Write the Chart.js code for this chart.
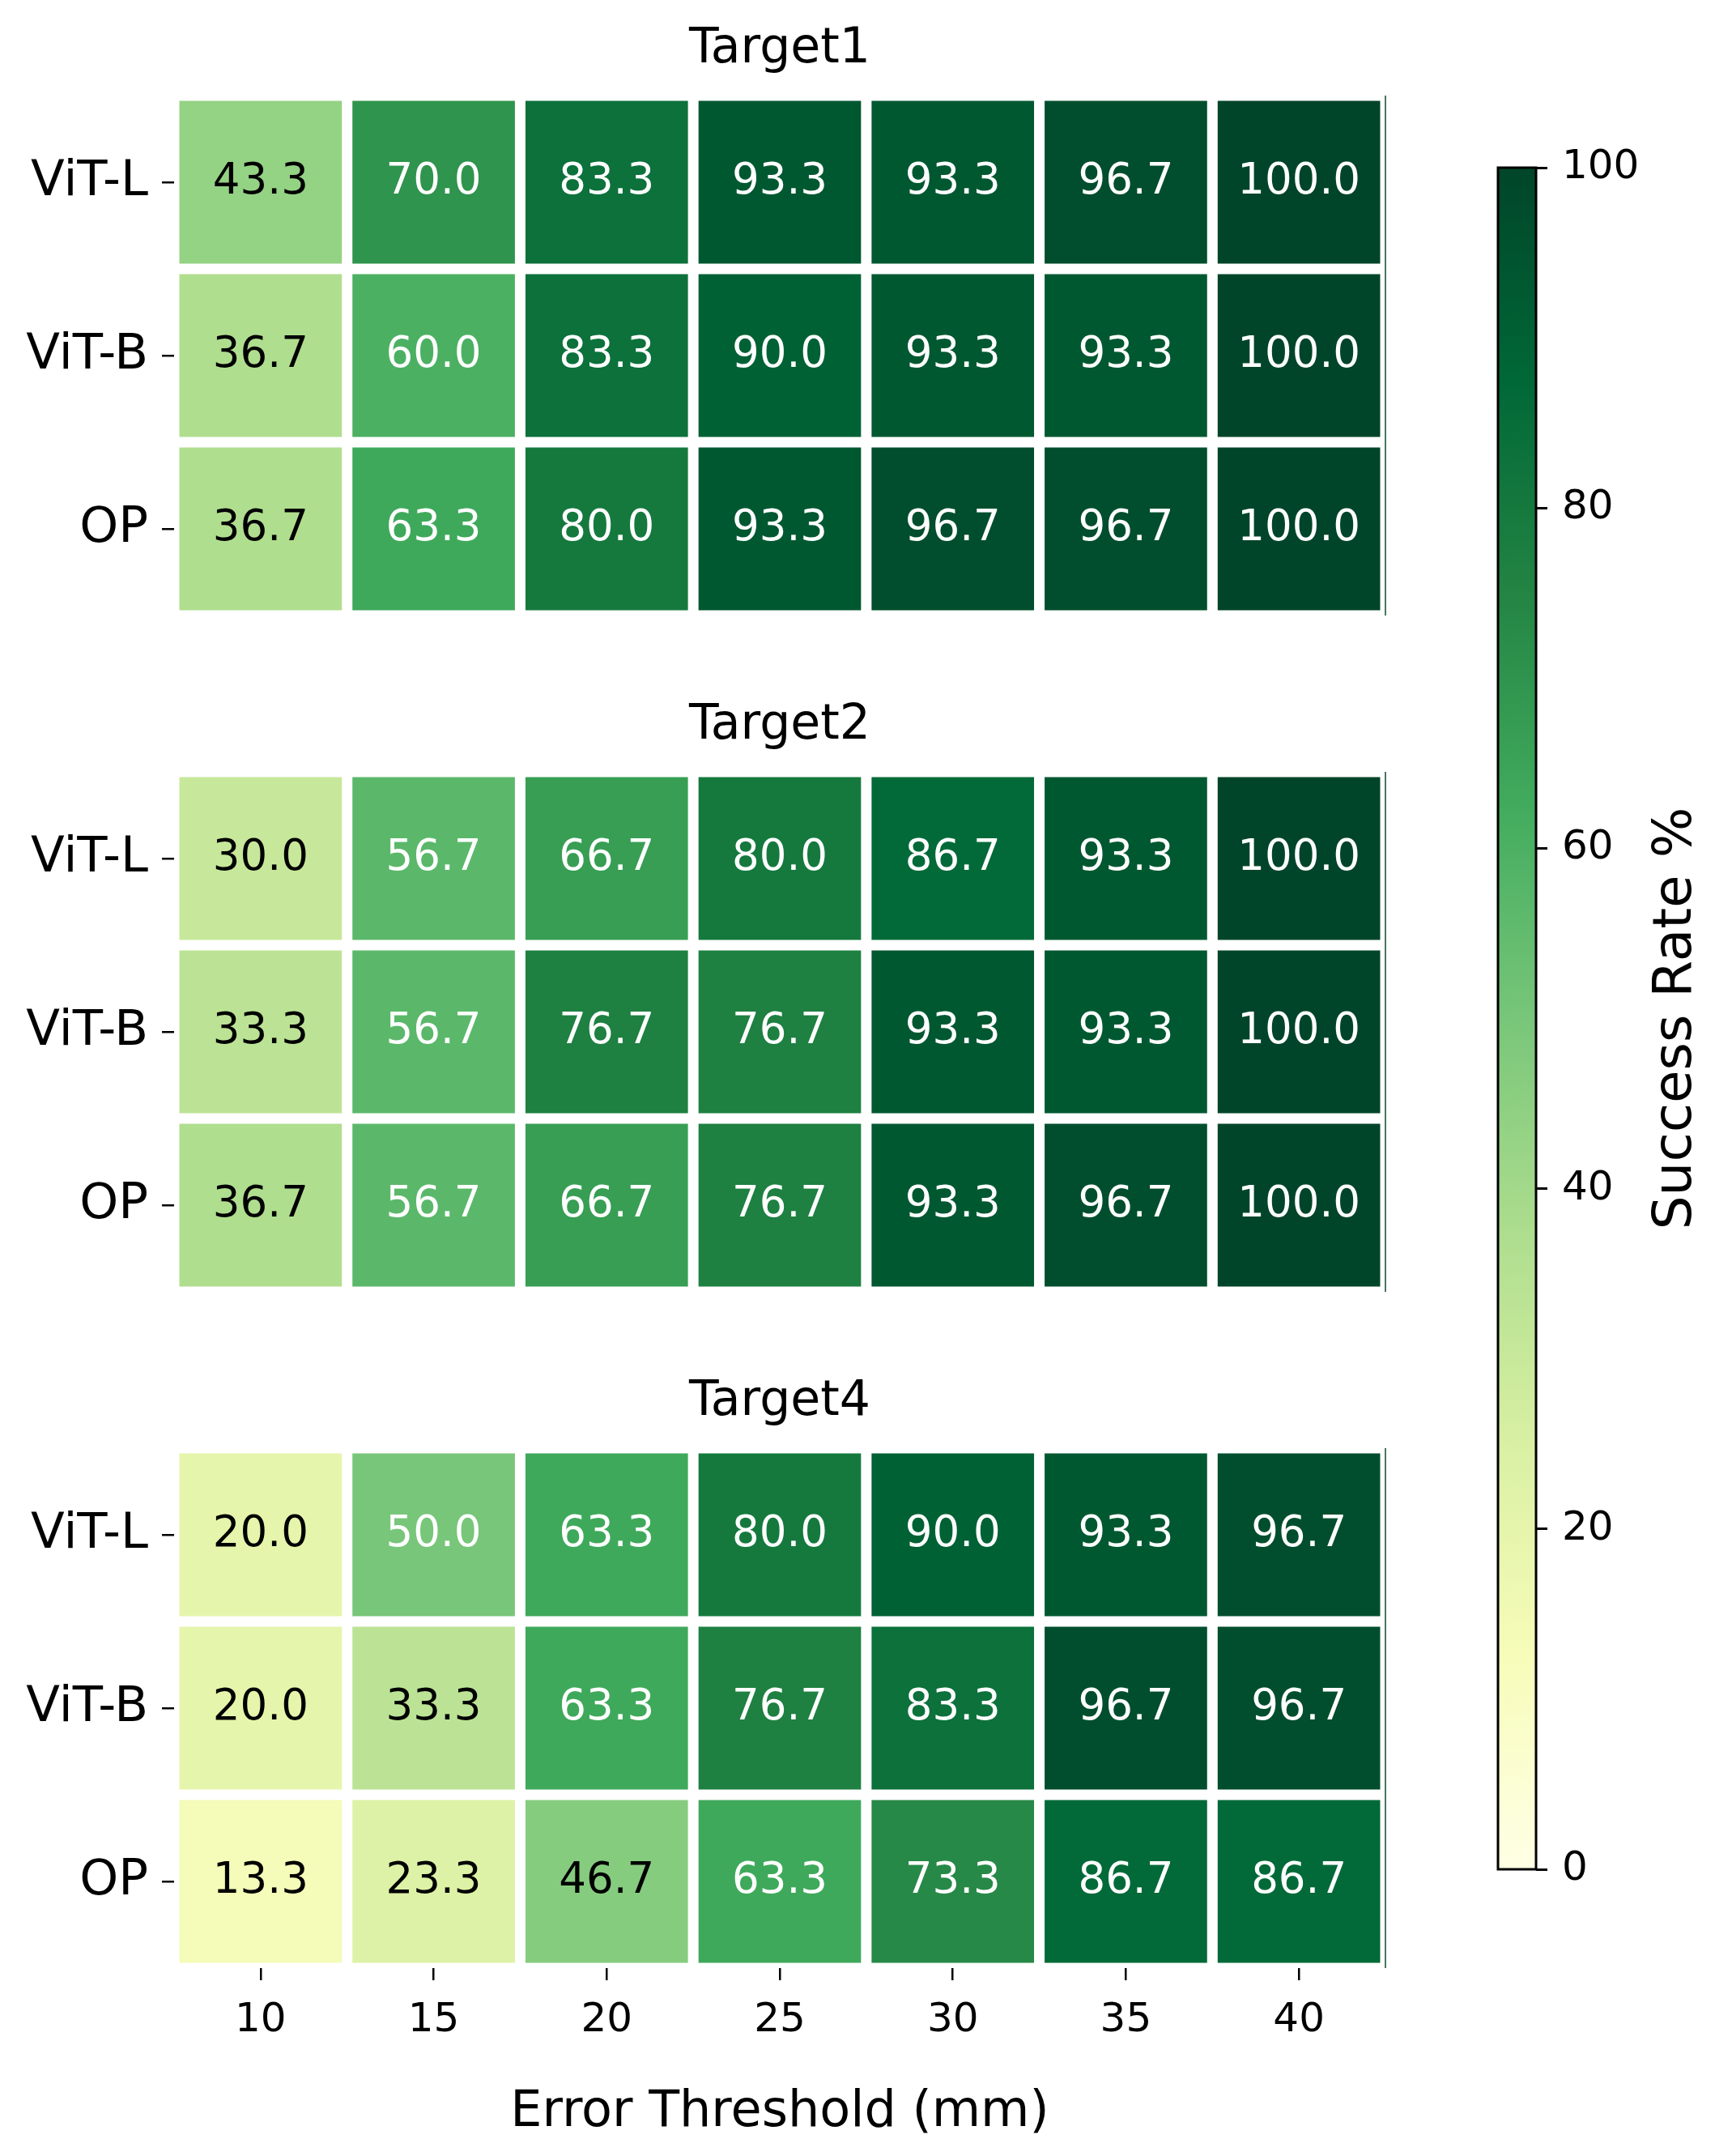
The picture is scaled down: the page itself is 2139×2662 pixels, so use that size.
<!DOCTYPE html>
<html><head><meta charset="utf-8">
<script src="https://cdn.jsdelivr.net/npm/chart.js@4/dist/chart.umd.min.js"></script>
<style>
html,body{margin:0;padding:0;background:#fff;}
body{width:2139px;height:2662px;position:relative;overflow:hidden;}
canvas{position:absolute;}
</style></head><body>
<canvas id="h1" width="1760" height="770" style="left:0;top:0;width:1760px;height:770px"></canvas>
<canvas id="h2" width="1760" height="770" style="left:0;top:835px;width:1760px;height:770px"></canvas>
<canvas id="h3" width="1760" height="992" style="left:0;top:1670px;width:1760px;height:992px"></canvas>
<canvas id="cb" width="339" height="2662" style="left:1800px;top:0;width:339px;height:2662px"></canvas>
<script>
// ---- data ----
const thresholds = ['10', '15', '20', '25', '30', '35', '40'];
const methods = ['ViT-L', 'ViT-B', 'OP'];
const panelTitles = ['Target1', 'Target2', 'Target4'];

const target1ViTL = [43.3, 70.0, 83.3, 93.3, 93.3, 96.7, 100.0];
const target1ViTB = [36.7, 60.0, 83.3, 90.0, 93.3, 93.3, 100.0];
const target1OP   = [36.7, 63.3, 80.0, 93.3, 96.7, 96.7, 100.0];

const target2ViTL = [30.0, 56.7, 66.7, 80.0, 86.7, 93.3, 100.0];
const target2ViTB = [33.3, 56.7, 76.7, 76.7, 93.3, 93.3, 100.0];
const target2OP   = [36.7, 56.7, 66.7, 76.7, 93.3, 96.7, 100.0];

const target4ViTL = [20.0, 50.0, 63.3, 80.0, 90.0, 93.3, 96.7];
const target4ViTB = [20.0, 33.3, 63.3, 76.7, 83.3, 96.7, 96.7];
const target4OP   = [13.3, 23.3, 46.7, 63.3, 73.3, 86.7, 86.7];

const colorbarTicks = [0, 20, 40, 60, 80, 100];
const colorbarLabel = 'Success Rate %';
const xAxisLabel = 'Error Threshold (mm)';

// ---- styling ----
const FONT = "'DejaVu Sans', 'Liberation Sans', sans-serif";
Chart.defaults.font.family = FONT;
Chart.defaults.color = '#000';
// matplotlib YlGn
const YLGN = ['#ffffe5','#f7fcb9','#d9f0a3','#addd8e','#78c679','#41ab5d','#238443','#006837','#004529'];
const VMIN = 0, VMAX = 100;
const CELL_FILL_X = 0.939, CELL_FILL_Y = 0.94;

function hexToRgb(h){return [parseInt(h.slice(1,3),16),parseInt(h.slice(3,5),16),parseInt(h.slice(5,7),16)];}
function cmapRgb(v){
  let t = (v - VMIN) / (VMAX - VMIN);
  t = Math.max(0, Math.min(1, t)) * (YLGN.length - 1);
  const i = Math.min(Math.floor(t), YLGN.length - 2);
  const f = t - i;
  const a = hexToRgb(YLGN[i]), b = hexToRgb(YLGN[i+1]);
  return a.map((c, k) => Math.round(c + (b[k] - c) * f));
}
function colorFor(v){const c = cmapRgb(v); return `rgb(${c[0]},${c[1]},${c[2]})`;}
function textColorFor(v){
  const c = cmapRgb(v).map(x => { x /= 255; return x <= 0.03928 ? x / 12.92 : Math.pow((x + 0.055) / 1.055, 2.4); });
  const lum = 0.2126 * c[0] + 0.7152 * c[1] + 0.0722 * c[2];
  return lum < 0.47 ? '#fff' : '#000';
}

const annotatePlugin = {
  id: 'annotate',
  afterDatasetsDraw(chart) {
    const ctx = chart.ctx;
    ctx.save();
    ctx.font = `53px ${FONT}`;
    ctx.textAlign = 'center';
    ctx.textBaseline = 'middle';
    chart.data.datasets.forEach((ds, d) => {
      chart.getDatasetMeta(d).data.forEach((el, i) => {
        const v = ds.values[i];
        const p = el.getCenterPoint();
        ctx.fillStyle = textColorFor(v);
        ctx.fillText(v.toFixed(1), p.x, p.y);
      });
    });
    ctx.restore();
  }
};
const edgePlugin = {
  id: 'edge',
  afterDraw(chart) {
    const a = chart.chartArea, ctx = chart.ctx;
    ctx.save();
    ctx.strokeStyle = '#0b4a2b';
    ctx.lineWidth = 1.5;
    ctx.beginPath();
    ctx.moveTo(a.right, a.top);
    ctx.lineTo(a.right, a.bottom);
    ctx.stroke();
    ctx.restore();
  }
};

function makeHeatmap(id, title, rows, showX) {
  const datasets = rows.map((vals, r) => ({
    label: methods[r],
    values: vals,
    data: vals.map(() => [r - CELL_FILL_Y / 2, r + CELL_FILL_Y / 2]),
    backgroundColor: vals.map(colorFor),
    grouped: false,
    barPercentage: CELL_FILL_X,
    categoryPercentage: 1,
    borderWidth: 0,
    borderSkipped: false
  }));
  return new Chart(document.getElementById(id), {
    type: 'bar',
    data: { labels: thresholds, datasets },
    options: {
      responsive: false,
      animation: false,
      events: [],
      layout: { padding: { left: 0, right: 49, top: 0, bottom: showX ? 0 : 10 } },
      plugins: {
        legend: { display: false },
        tooltip: { enabled: false },
        title: {
          display: true, text: title, fullSize: false, color: '#000',
          font: { size: 60, weight: 'normal' }, padding: { top: 25, bottom: 21 }
        }
      },
      scales: {
        x: {
          type: 'category',
          display: showX,
          offset: true,
          grid: { offset: false, drawOnChartArea: false, drawTicks: true, tickLength: 15, color: '#000', lineWidth: 2.5 },
          border: { display: false },
          ticks: { font: { size: 50 }, color: '#000', padding: 20, maxRotation: 0, autoSkip: false },
          title: { display: true, text: xAxisLabel, color: '#000', font: { size: 62 }, padding: { top: 0, bottom: 16 } },
          afterFit: s => { if (showX) s.height = 232; }
        },
        y: {
          type: 'linear',
          min: -0.5, max: 2.5,
          reverse: true,
          afterBuildTicks: s => { s.ticks = methods.map((_, i) => ({ value: i })); },
          ticks: { callback: v => methods[v], font: { size: 61 }, color: '#000', padding: 17, autoSkip: false },
          grid: { drawOnChartArea: false, tickLength: 15, color: '#000', lineWidth: 2.5 },
          border: { display: false },
          afterFit: s => { s.width = 215; s.paddingTop = 0; s.paddingBottom = 0; }
        }
      }
    },
    plugins: [annotatePlugin, edgePlugin]
  });
}

makeHeatmap('h1', panelTitles[0], [target1ViTL, target1ViTB, target1OP], false);
makeHeatmap('h2', panelTitles[1], [target2ViTL, target2ViTB, target2OP], false);
makeHeatmap('h3', panelTitles[2], [target4ViTL, target4ViTB, target4OP], true);

// ---- colorbar ----
const outlinePlugin = {
  id: 'outline',
  afterDraw(chart) {
    const a = chart.chartArea, ctx = chart.ctx;
    ctx.save();
    ctx.strokeStyle = '#000';
    ctx.lineWidth = 3;
    ctx.strokeRect(a.left, a.top, a.right - a.left, a.bottom - a.top);
    ctx.restore();
  }
};
const cbLabelPlugin = {
  id: 'cbLabel',
  afterDraw(chart) {
    const a = chart.chartArea, ctx = chart.ctx;
    ctx.save();
    ctx.translate(a.right + 174, (a.top + a.bottom) / 2);
    ctx.rotate(-Math.PI / 2);
    ctx.font = `66px ${FONT}`;
    ctx.fillStyle = '#000';
    ctx.textAlign = 'center';
    ctx.textBaseline = 'middle';
    ctx.fillText(colorbarLabel, 0, 0);
    ctx.restore();
  }
};
new Chart(document.getElementById('cb'), {
  type: 'bar',
  data: {
    labels: [''],
    datasets: [{
      data: [[VMIN, VMAX]],
      backgroundColor: (c) => {
        const ch = c.chart, a = ch.chartArea;
        if (!a) return YLGN[0];
        const g = ch.ctx.createLinearGradient(0, a.bottom, 0, a.top);
        YLGN.forEach((col, i) => g.addColorStop(i / (YLGN.length - 1), col));
        return g;
      },
      barPercentage: 1, categoryPercentage: 1, borderWidth: 0
    }]
  },
  options: {
    responsive: false, animation: false, events: [],
    layout: { padding: { left: 50, right: 0, top: 207, bottom: 354 } },
    plugins: { legend: { display: false }, tooltip: { enabled: false } },
    scales: {
      x: { display: false },
      y: {
        position: 'right', min: VMIN, max: VMAX,
        afterBuildTicks: s => { s.ticks = colorbarTicks.map(v => ({ value: v })); },
        ticks: { font: { size: 50 }, color: '#000', padding: 18, autoSkip: false },
        grid: { drawOnChartArea: false, tickLength: 14, color: '#000', lineWidth: 3 },
        border: { display: false },
        afterFit: s => { s.width = 242; s.paddingTop = 0; s.paddingBottom = 0; }
      }
    }
  },
  plugins: [outlinePlugin, cbLabelPlugin]
});
</script>
</body></html>
